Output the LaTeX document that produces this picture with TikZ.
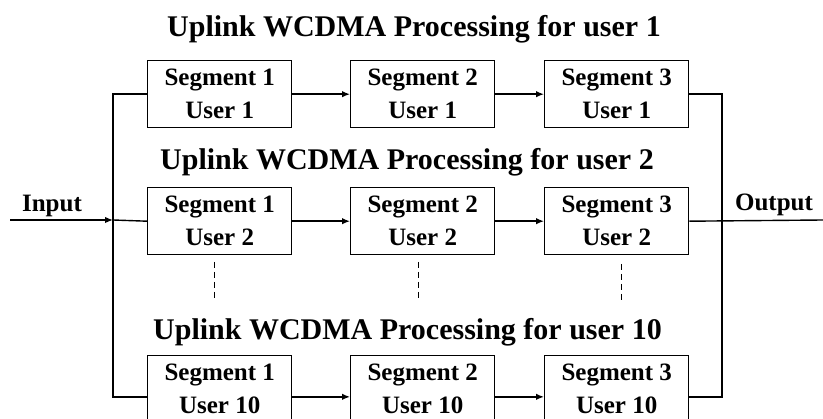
\documentclass[tikz,border=0pt]{standalone}
\usepackage{fontspec}
\setmainfont{Liberation Serif}
\usetikzlibrary{arrows.meta}
\begin{document}
\begin{tikzpicture}[x=1pt,y=-1pt,
  seg/.style={draw, line width=1.4pt, minimum width=144pt, minimum height=67pt, inner sep=0pt, align=center, font=\fontsize{25}{33}\selectfont\bfseries, anchor=north west},
  ttl/.style={font=\fontsize{30}{36}\selectfont\bfseries, anchor=base, inner sep=0pt},
  lbl/.style={font=\fontsize{25}{30}\selectfont\bfseries, anchor=base, inner sep=0pt},
  wire/.style={line width=1.4pt},
  arr/.style={wire, -{Latex[length=8pt,width=6.5pt]}},
  dots/.style={line width=1pt, dash pattern=on 6pt off 4pt}]
\useasboundingbox (0,0) rectangle (823,419);

% titles
\node[ttl] (t1) at (414,37) {Uplink WCDMA Processing for user 1};
\node[ttl] (t2) at (407,170) {Uplink WCDMA Processing for user 2};
\node[ttl] (t3) at (407.5,340) {Uplink WCDMA Processing for user 10};

% boxes
\node[seg] (b11) at (147,60) {Segment 1\\User 1};
\node[seg] (b12) at (350,60) {Segment 2\\User 1};
\node[seg] (b13) at (544,60) {Segment 3\\User 1};
\node[seg] (b21) at (147,187) {Segment 1\\User 2};
\node[seg] (b22) at (350,187) {Segment 2\\User 2};
\node[seg] (b23) at (544,187) {Segment 3\\User 2};
\node[seg] (b31) at (147,355) {Segment 1\\User 10};
\node[seg] (b32) at (350,355) {Segment 2\\User 10};
\node[seg] (b33) at (544,355) {Segment 3\\User 10};

% labels
\node[lbl] (in) at (52,212) {Input};
\node[lbl] (out) at (774,211) {Output};

% junction coordinates
\coordinate (inL) at (10,220);
\coordinate (jL) at (113,220);
\coordinate (jR) at (722,220);
\coordinate (outR) at (823,220);

% input and left bus
\draw[arr] (inL) -- (jL);
\draw[wire] (jL) -- (b21.west);
\draw[wire] (b11.west) -- (b11.west -| jL) -- (b31.186.7 -| jL) -- (b31.186.7);

% arrows between segments
\draw[arr] (b11.east) -- (b12.west);
\draw[arr] (b12.east) -- (b13.west);
\draw[arr] (b21.east) -- (b22.west);
\draw[arr] (b22.east) -- (b23.west);
\draw[arr] (b31.-6.7) -- (b32.186.7);
\draw[arr] (b32.-6.7) -- (b33.186.7);

% right bus and output
\draw[wire] (b13.east) -- (b13.east -| jR) -- (b33.-6.7 -| jR) -- (b33.-6.7);
\draw[wire] (b23.east) -- (outR);

% dashed continuation marks
\coordinate (d1a) at (214,262); \coordinate (d1b) at (214,300);
\coordinate (d2a) at (418,262); \coordinate (d2b) at (418,300);
\coordinate (d3a) at (621,264); \coordinate (d3b) at (621,300);
\draw[dots] (d1a) -- (d1b);
\draw[dots] (d2a) -- (d2b);
\draw[dots] (d3a) -- (d3b);
\end{tikzpicture}
\end{document}
